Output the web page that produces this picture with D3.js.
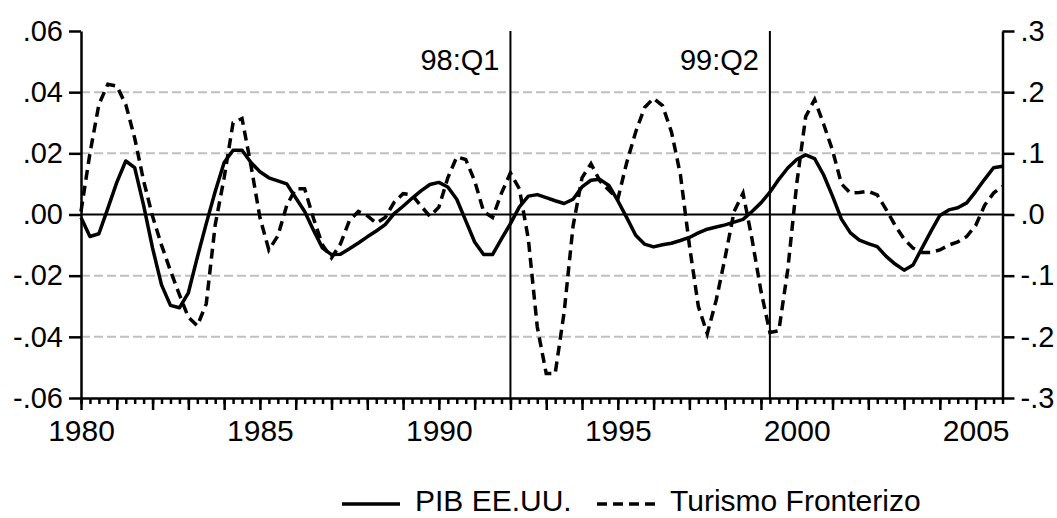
<!DOCTYPE html>
<html><head><meta charset="utf-8">
<script src="https://cdn.jsdelivr.net/npm/d3@7"></script>
<style>
body{margin:0;background:#fff}
svg{display:block}
text{font-family:"Liberation Sans",Arial,sans-serif;fill:#000}
</style>
</head><body>
<svg id="chart" width="1057" height="518"></svg>
<script>
// ---- data ----
const startYear = 1980;           // first observation 1980Q1, quarterly
const pib = [
 -0.001, -0.0072, -0.0063, 0.002,
 0.0105, 0.0175, 0.0153, 0.003,
 -0.011, -0.023, -0.0297, -0.0305,
 -0.0256, -0.014, -0.003, 0.0075,
 0.017, 0.021, 0.021, 0.017,
 0.014, 0.012, 0.011, 0.010,
 0.0055, 0.001, -0.0052, -0.011,
 -0.0131, -0.013, -0.0112, -0.0093,
 -0.0073, -0.0054, -0.0033, 0.0003,
 0.0027, 0.0053, 0.0077, 0.0098,
 0.0105, 0.009, 0.005, -0.002,
 -0.009, -0.0131, -0.0131, -0.008,
 -0.003, 0.0025, 0.006, 0.0065,
 0.0055, 0.0045, 0.0036, 0.005,
 0.009, 0.0112, 0.0115, 0.0095,
 0.0045, -0.001, -0.0068, -0.0097,
 -0.0106, -0.0099, -0.0094, -0.0085,
 -0.0075, -0.006, -0.0048, -0.0041,
 -0.0034, -0.0025, -0.0016, 0.001,
 0.0038, 0.0073, 0.0115, 0.0152,
 0.018, 0.0195, 0.0183, 0.013,
 0.006, -0.0015, -0.006, -0.0084,
 -0.0095, -0.0105, -0.0137, -0.0162,
 -0.0182, -0.0165, -0.011, -0.0055,
 -0.0003, 0.0015, 0.0022, 0.0038,
 0.0075, 0.0115, 0.0153, 0.0158
];
const turismo = [
 0.005, 0.10, 0.18, 0.213,
 0.21, 0.18, 0.125, 0.055,
 -0.003, -0.05, -0.092, -0.131,
 -0.168, -0.182, -0.146, -0.017,
 0.06, 0.15, 0.157, 0.08,
 -0.005, -0.058, -0.035, 0.015,
 0.042, 0.042, -0.007, -0.05,
 -0.071, -0.048, -0.01, 0.005,
 -0.002, -0.014, -0.005, 0.02,
 0.034, 0.032, 0.014, -0.003,
 0.012, 0.06, 0.094, 0.09,
 0.055, 0.005, -0.005, 0.035,
 0.068, 0.042, -0.04, -0.184,
 -0.26, -0.26, -0.16, -0.019,
 0.06, 0.083, 0.055, 0.04,
 0.025, 0.085, 0.135, 0.175,
 0.19, 0.178, 0.135, 0.065,
 -0.05, -0.15, -0.195, -0.14,
 -0.07, 0.005, 0.035, -0.04,
 -0.125, -0.193, -0.19, -0.09,
 0.05, 0.16, 0.188, 0.148,
 0.105, 0.05, 0.035, 0.036,
 0.038, 0.032, 0.008, -0.018,
 -0.04, -0.055, -0.062, -0.062,
 -0.058, -0.05, -0.045, -0.036,
 -0.018, 0.015, 0.035, 0.046
];
const leftTicks = [-0.06, -0.04, -0.02, 0, 0.02, 0.04, 0.06];
const leftTickLabels = ["-.06", "-.04", "-.02", ".00", ".02", ".04", ".06"];
const rightTicks = [-0.3, -0.2, -0.1, 0, 0.1, 0.2, 0.3];
const rightTickLabels = ["-.3", "-.2", "-.1", ".0", ".1", ".2", ".3"];
const yearLabels = [1980, 1985, 1990, 1995, 2000, 2005];
const eventDates = [1992.0, 1999.25];
const eventLabels = ["98:Q1", "99:Q2"];
const seriesNames = ["PIB EE.UU.", "Turismo Fronterizo"];

// ---- layout ----
const L = 81, R = 1002.5, T = 31, B = 398;
const FS = 29, FS_YEAR = 30, FS_LEG = 30;
const svg = d3.select("#chart");
const tOf = i => startYear + i / 4;
const endT = tOf(pib.length - 1);
const x = d3.scaleLinear().domain([startYear, endT]).range([L, R]);
const yL = d3.scaleLinear().domain([-0.06, 0.06]).range([B, T]);
const yR = d3.scaleLinear().domain([-0.3, 0.3]).range([B, T]);

// grid
svg.append("g").selectAll("line")
  .data(leftTicks.filter(v => v !== 0 && Math.abs(v) < 0.059))
  .join("line")
  .attr("x1", L).attr("x2", R)
  .attr("y1", d => yL(d)).attr("y2", d => yL(d))
  .attr("stroke", "#c0c0c0").attr("stroke-width", 2)
  .attr("stroke-dasharray", "9,4");

// zero line
svg.append("line").attr("x1", L).attr("x2", R)
  .attr("y1", yL(0)).attr("y2", yL(0))
  .attr("stroke", "#000").attr("stroke-width", 2);

// event lines
svg.append("g").selectAll("line").data(eventDates).join("line")
  .attr("x1", d => x(d)).attr("x2", d => x(d))
  .attr("y1", T).attr("y2", B)
  .attr("stroke", "#000").attr("stroke-width", 2);
svg.append("g").selectAll("text").data(eventDates).join("text")
  .attr("x", d => x(d) - 11).attr("y", 70)
  .attr("text-anchor", "end").attr("font-size", FS)
  .text((d, i) => eventLabels[i]);

// series
const lineL = d3.line().x((d, i) => x(tOf(i))).y(d => yL(d));
const lineR = d3.line().x((d, i) => x(tOf(i))).y(d => yR(d));
svg.append("path").datum(turismo).attr("d", lineR)
  .attr("fill", "none").attr("stroke", "#000").attr("stroke-width", 3.5)
  .attr("stroke-dasharray", "10,6");
svg.append("path").datum(pib).attr("d", lineL)
  .attr("fill", "none").attr("stroke", "#000").attr("stroke-width", 3.5)
  .attr("stroke-linejoin", "round");

// axes
function styleAxis(fs) {
  return g => {
    g.selectAll(".domain").attr("stroke", "#000").attr("stroke-width", 2.5);
    g.selectAll(".tick line").attr("stroke", "#000").attr("stroke-width", 2.5);
    g.selectAll("text").attr("font-family", '"Liberation Sans",Arial,sans-serif')
      .attr("font-size", fs).attr("fill", "#000");
  };
}
svg.append("g").attr("transform", `translate(${L},0)`)
  .call(d3.axisLeft(yL).tickValues(leftTicks)
    .tickFormat((d, i) => leftTickLabels[i]).tickSize(12).tickSizeOuter(0).tickPadding(6))
  .call(styleAxis(FS));
svg.append("g").attr("transform", `translate(${R},0)`)
  .call(d3.axisRight(yR).tickValues(rightTicks)
    .tickFormat((d, i) => rightTickLabels[i]).tickSize(12).tickSizeOuter(0).tickPadding(6))
  .call(styleAxis(FS));
const quarterTicks = d3.range(pib.length).map(tOf);
svg.append("g").attr("transform", `translate(0,${B})`)
  .call(d3.axisBottom(x).tickValues(quarterTicks).tickFormat("").tickSize(6).tickSizeOuter(0))
  .call(styleAxis(FS));
const yearTicks = d3.range(startYear, Math.floor(endT) + 1);
svg.append("g").attr("transform", `translate(0,${B})`)
  .call(d3.axisBottom(x).tickValues(yearTicks)
    .tickFormat(d => yearLabels.includes(d) ? String(d) : "").tickSize(12).tickSizeOuter(0).tickPadding(10))
  .call(styleAxis(FS_YEAR))
  .call(g => g.select(".domain").remove());

// legend
const lg = svg.append("g");
const legendItems = [
  {x1: 342, x2: 400, tx: 415, dash: null},
  {x1: 597, x2: 657, tx: 670, dash: "10,6"}
];
legendItems.forEach((it, i) => {
  lg.append("line").attr("x1", it.x1).attr("x2", it.x2).attr("y1", 504).attr("y2", 504)
    .attr("stroke", "#000").attr("stroke-width", 3.5)
    .attr("stroke-dasharray", it.dash);
  lg.append("text").attr("x", it.tx).attr("y", 511).attr("font-size", FS_LEG).text(seriesNames[i]);
});
</script>
</body></html>
